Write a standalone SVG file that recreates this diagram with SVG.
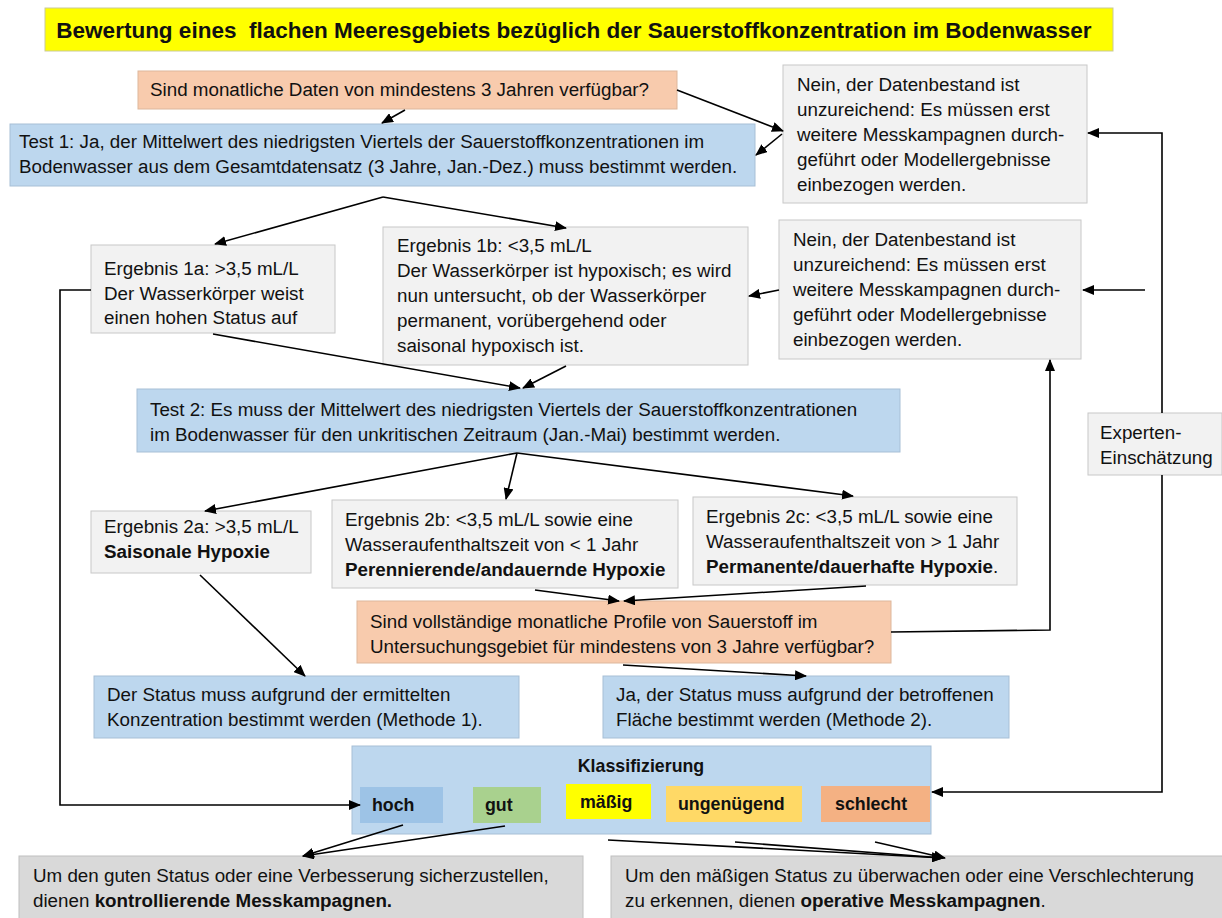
<svg xmlns="http://www.w3.org/2000/svg" width="1222" height="918" viewBox="0 0 1222 918">
<defs>
<marker id="ah" markerUnits="userSpaceOnUse" markerWidth="12" markerHeight="10" refX="11" refY="5" orient="auto">
<path d="M0,0 L12,5 L0,10 Z" fill="#000"/>
</marker>
<style>
text{font-family:"Liberation Sans",Arial,sans-serif;font-size:18.8px;fill:#111}
.b{font-weight:bold}
.title{font-size:22.5px;font-weight:bold}
.blue{fill:#BDD7EE;stroke:#A7BFD6;stroke-width:1}
.gray{fill:#F2F2F2;stroke:#C8C8C8;stroke-width:1}
.orange{fill:#F8CBAD;stroke:#DDB79C;stroke-width:1}
.dgray{fill:#D9D9D9;stroke:#C0C0C0;stroke-width:1}
.c{fill:none;stroke:#000;stroke-width:1.6}
.ca{fill:none;stroke:#000;stroke-width:1.6;marker-end:url(#ah)}
.cls{font-weight:bold;font-size:17.8px}
</style>
</defs>
<rect width="1222" height="918" fill="#fff"/>

<g id="title">
<rect x="45" y="8" width="1068" height="43" fill="#FFFF00" stroke="#C9C99A"/>
<text class="title" x="574" y="38" text-anchor="middle" xml:space="preserve">Bewertung eines  flachen Meeresgebiets bezüglich der Sauerstoffkonzentration im Bodenwasser</text>
</g>

<g id="q1">
<rect class="orange" x="138" y="71" width="539" height="38"/>
<text x="150" y="96">Sind monatliche Daten von mindestens 3 Jahren verfügbar?</text>
</g>

<g id="test1">
<rect class="blue" x="10" y="124" width="745" height="62"/>
<text x="19" y="148">Test 1: Ja, der Mittelwert des niedrigsten Viertels der Sauerstoffkonzentrationen im</text>
<text x="19" y="173">Bodenwasser aus dem Gesamtdatensatz (3 Jahre, Jan.-Dez.) muss bestimmt werden.</text>
</g>

<g id="nein1">
<rect class="gray" x="783" y="65" width="304" height="138"/>
<text x="797" y="91">Nein, der Datenbestand ist</text>
<text x="797" y="116">unzureichend: Es müssen erst</text>
<text x="797" y="141">weitere Messkampagnen durch-</text>
<text x="797" y="166">geführt oder Modellergebnisse</text>
<text x="797" y="191">einbezogen werden.</text>
</g>

<g id="erg1a">
<rect class="gray" x="91" y="245" width="244" height="88"/>
<text x="104" y="275">Ergebnis 1a: &gt;3,5 mL/L</text>
<text x="104" y="300">Der Wasserkörper weist</text>
<text x="104" y="324">einen hohen Status auf</text>
</g>

<g id="erg1b">
<rect class="gray" x="383" y="227" width="365" height="138"/>
<text x="397" y="252">Ergebnis 1b: &lt;3,5 mL/L</text>
<text x="397" y="277">Der Wasserkörper ist hypoxisch; es wird</text>
<text x="397" y="302">nun untersucht, ob der Wasserkörper</text>
<text x="397" y="327">permanent, vorübergehend oder</text>
<text x="397" y="352">saisonal hypoxisch ist.</text>
</g>

<g id="nein2">
<rect class="gray" x="779" y="220" width="302" height="139"/>
<text x="793" y="246">Nein, der Datenbestand ist</text>
<text x="793" y="271">unzureichend: Es müssen erst</text>
<text x="793" y="296">weitere Messkampagnen durch-</text>
<text x="793" y="321">geführt oder Modellergebnisse</text>
<text x="793" y="346">einbezogen werden.</text>
</g>

<g id="test2">
<rect class="blue" x="137" y="389" width="763" height="63"/>
<text x="150" y="416">Test 2: Es muss der Mittelwert des niedrigsten Viertels der Sauerstoffkonzentrationen</text>
<text x="150" y="441">im Bodenwasser für den unkritischen Zeitraum (Jan.-Mai) bestimmt werden.</text>
</g>

<g id="experten">
<rect class="gray" x="1088" y="413" width="134" height="62"/>
<text x="1100" y="439">Experten-</text>
<text x="1100" y="464">Einschätzung</text>
</g>

<g id="erg2a">
<rect class="gray" x="91" y="511" width="220" height="62"/>
<text x="104" y="533">Ergebnis 2a: &gt;3,5 mL/L</text>
<text x="104" y="558" class="b">Saisonale Hypoxie</text>
</g>

<g id="erg2b">
<rect class="gray" x="332" y="500" width="346" height="88"/>
<text x="345" y="526">Ergebnis 2b: &lt;3,5 mL/L sowie eine</text>
<text x="345" y="551">Wasseraufenthaltszeit von &lt; 1 Jahr</text>
<text x="345" y="576" class="b">Perennierende/andauernde Hypoxie</text>
</g>

<g id="erg2c">
<rect class="gray" x="693" y="497" width="324" height="88"/>
<text x="706" y="523">Ergebnis 2c: &lt;3,5 mL/L sowie eine</text>
<text x="706" y="548">Wasseraufenthaltszeit von &gt; 1 Jahr</text>
<text x="706" y="573"><tspan class="b">Permanente/dauerhafte Hypoxie</tspan>.</text>
</g>

<g id="q2">
<rect class="orange" x="357" y="601" width="534" height="62"/>
<text x="370" y="628">Sind vollständige monatliche Profile von Sauerstoff im</text>
<text x="370" y="653">Untersuchungsgebiet für mindestens von 3 Jahre verfügbar?</text>
</g>

<g id="methode1">
<rect class="blue" x="94" y="676" width="425" height="62"/>
<text x="107" y="701">Der Status muss aufgrund der ermittelten</text>
<text x="107" y="726">Konzentration bestimmt werden (Methode 1).</text>
</g>

<g id="methode2">
<rect class="blue" x="603" y="676" width="406" height="62"/>
<text x="616" y="701">Ja, der Status muss aufgrund der betroffenen</text>
<text x="616" y="726">Fläche bestimmt werden (Methode 2).</text>
</g>

<g id="klassifizierung">
<rect class="blue" x="352" y="746" width="579" height="88"/>
<text x="641" y="772" text-anchor="middle" class="cls">Klassifizierung</text>
<rect x="360" y="787" width="83" height="36" fill="#9DC3E6"/>
<text x="372" y="811" class="cls">hoch</text>
<rect x="473" y="787" width="68" height="36" fill="#A9D18E"/>
<text x="485" y="811" class="cls">gut</text>
<rect x="566" y="784" width="85" height="35" fill="#FFFF00"/>
<text x="580" y="808" class="cls">mäßig</text>
<rect x="666" y="786" width="136" height="36" fill="#FFD966"/>
<text x="678" y="810" class="cls">ungenügend</text>
<rect x="821" y="786" width="109" height="36" fill="#F4B183"/>
<text x="835" y="810" class="cls">schlecht</text>
</g>

<g id="kontrolle">
<rect class="dgray" x="19" y="856" width="564" height="64"/>
<text x="33" y="882">Um den guten Status oder eine Verbesserung sicherzustellen,</text>
<text x="33" y="907">dienen <tspan class="b">kontrollierende Messkampagnen.</tspan></text>
</g>

<g id="operativ">
<rect class="dgray" x="611" y="856" width="613" height="64"/>
<text x="625" y="882">Um den mäßigen Status zu überwachen oder eine Verschlechterung</text>
<text x="625" y="907">zu erkennen, dienen <tspan class="b">operative Messkampagnen</tspan>.</text>
</g>

<g id="connectors">
<path class="ca" d="M405,110 L382,123"/>
<path class="ca" d="M677,90 L783,131"/>
<path class="ca" d="M782,134 L756,155"/>
<path class="ca" d="M383,197 L215,244"/>
<path class="ca" d="M383,197 L566,228"/>
<path class="ca" d="M213,334 L520,388"/>
<path class="ca" d="M566,366 L523,388"/>
<path class="ca" d="M779,290 L749,296"/>
<path class="ca" d="M1145,290 L1083,290"/>
<path class="ca" d="M1162,413 L1162,133 L1088,133"/>
<path class="ca" d="M1162,475 L1162,792 L932,792"/>
<path class="ca" d="M891,632 L1050,630 L1050,360"/>
<path class="ca" d="M91,290 L60,290 L60,805 L360,805"/>
<path class="ca" d="M517,453 L205,511"/>
<path class="ca" d="M517,453 L506,499"/>
<path class="ca" d="M517,453 L853,496"/>
<path class="ca" d="M535,590 L619,601"/>
<path class="ca" d="M866,586 L624,601"/>
<path class="ca" d="M200,575 L305,676"/>
<path class="ca" d="M623,665 L806,676"/>
<path class="ca" d="M403,825 L303,856"/>
<path class="ca" d="M505,826 L303,856"/>
<path class="ca" d="M608,840 L943,858"/>
<path class="ca" d="M735,842 L943,858"/>
<path class="ca" d="M875,842 L945,858"/>
</g>
</svg>
